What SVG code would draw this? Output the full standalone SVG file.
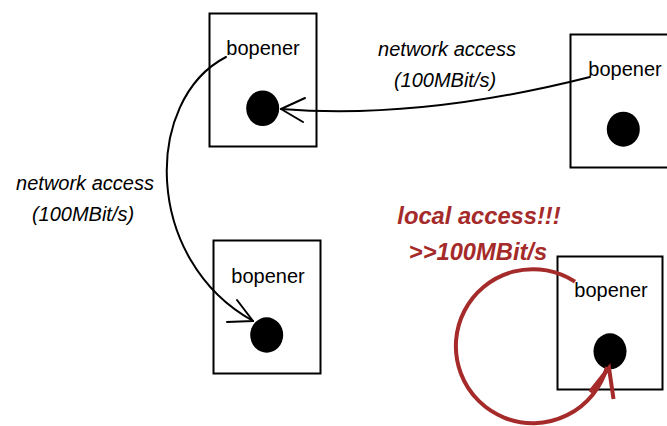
<svg xmlns="http://www.w3.org/2000/svg" width="667" height="426" viewBox="0 0 667 426">
  <style>
    .box { fill: #ffffff; stroke: #000000; stroke-width: 2; }
    .dot { fill: #000000; }
    .name { font-family: "Liberation Sans", Arial, sans-serif; font-size: 20px; fill: #000000; text-anchor: middle; }
    .lbl { font-family: "Liberation Sans", Arial, sans-serif; font-size: 20px; font-style: italic; fill: #000000; text-anchor: middle; }
    .red { font-family: "Liberation Sans", Arial, sans-serif; font-size: 23.7px; font-style: italic; font-weight: bold; fill: #a52a2a; text-anchor: middle; }
    .conn { fill: none; stroke: #000000; stroke-width: 2; stroke-linecap: round; stroke-linejoin: round; }
    .local { fill: none; stroke: #a52a2a; stroke-width: 4; stroke-linecap: butt; stroke-linejoin: miter; }
  </style>
  <rect width="667" height="426" fill="#ffffff"/>

  <g id="node-top-left">
    <rect class="box" x="209.5" y="13.5" width="107" height="133"/>
    <text class="name" x="263" y="55">bopener</text>
    <ellipse class="dot" cx="262.7" cy="108.3" rx="16.5" ry="17.8"/>
  </g>
  <g id="node-top-right">
    <rect class="box" x="570.5" y="34.5" width="110" height="133"/>
    <text class="name" x="625" y="76">bopener</text>
    <ellipse class="dot" cx="623.3" cy="129.2" rx="16.5" ry="17.5"/>
  </g>
  <g id="node-bottom-left">
    <rect class="box" x="213.5" y="240.5" width="107" height="133"/>
    <text class="name" x="268" y="283">bopener</text>
    <ellipse class="dot" cx="266.7" cy="335" rx="16.5" ry="17.7"/>
  </g>
  <g id="node-bottom-right">
    <rect class="box" x="557.5" y="256.5" width="105" height="133"/>
    <text class="name" x="611" y="297">bopener</text>
    <ellipse class="dot" cx="610" cy="351.3" rx="16.5" ry="18"/>
  </g>

  <g id="connectors">
    <path class="conn" d="M590,77 Q420,120 281,109"/>
    <path class="conn" d="M305,98 L281,109 L303,122"/>
    <path class="conn" d="M226,57 C143,100 143,260 253,321"/>
    <path class="conn" d="M237,300 L253,321 L227,322"/>
    <path class="local" d="M575,281.7 A77,77 0 1 0 607,367"/>
    <path class="local" d="M590,392 L609,368 L613.5,399"/>
  </g>

  <g id="labels">
    <text class="lbl" x="447" y="56">network access</text>
    <text class="lbl" x="445" y="87">(100MBit/s)</text>
    <text class="lbl" x="85" y="190">network access</text>
    <text class="lbl" x="83" y="221">(100MBit/s)</text>
    <text class="red" x="479" y="224">local access!!!</text>
    <text class="red" x="478" y="260">&gt;&gt;100MBit/s</text>
  </g>
</svg>
